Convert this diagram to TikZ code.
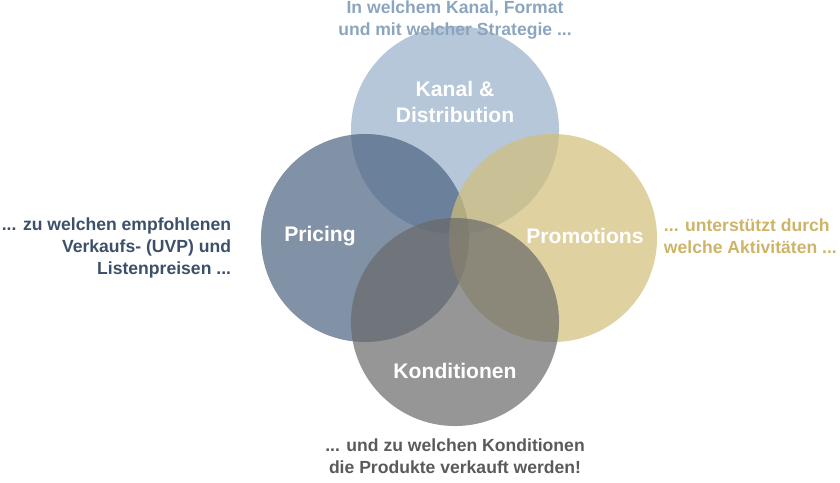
\documentclass[tikz,border=0pt]{standalone}
\usepackage{fontspec}
\setmainfont{Liberation Sans}
\usetikzlibrary{positioning}
\definecolor{kanal}{RGB}{150,175,200}
\definecolor{pricing}{RGB}{75,98,128}
\definecolor{promo}{RGB}{210,190,120}
\definecolor{kond}{RGB}{105,105,105}
\definecolor{pricetext}{RGB}{60,80,105}
\definecolor{kanaltext}{RGB}{140,165,190}
\definecolor{promotext}{RGB}{205,180,105}
\definecolor{kondtext}{RGB}{90,90,90}
\begin{document}
\begin{tikzpicture}[x=0.025cm, y=-0.025cm,
  ring/.style={circle, minimum size=5.2cm, fill opacity=0.7, inner sep=0},
  inner/.style={text=white, font=\bfseries\fontsize{15}{18}\selectfont, align=center},
  side/.style={font=\bfseries\fontsize{12.5}{15.5}\selectfont, align=center}]
  \useasboundingbox (0,0) rectangle (840,482);
  % circles
  \node[ring, fill=kanal] (kanal) at (455,130) {};
  \node[ring, fill=pricing] (pricing) at (365,238) {};
  \node[ring, fill=promo] (promo) at (553,238) {};
  \node[ring, fill=kond] (kond) at (455,322) {};
  % circle labels
  \node[inner] at (455,102) {Kanal \&\\Distribution};
  \node[inner] at (320,236) {Pricing};
  \node[inner] at (585,236) {Promotions};
  \node[inner] at (455,371) {Konditionen};
  % outer texts
  \node[side, text=kanaltext] at (455,20) {In welchem Kanal, Format\\und mit welcher Strategie ...};
  \node[side, text=pricetext, align=right, anchor=east] at (236,248) {... zu welchen empfohlenen\\Verkaufs- (UVP) und\\Listenpreisen ...};
  \node[side, text=promotext, align=left, anchor=west] at (659,236) {... unterstützt durch\\welche Aktivitäten ...};
  \node[side, text=kondtext] at (455,456) {... und zu welchen Konditionen\\die Produkte verkauft werden!};
\end{tikzpicture}
\end{document}
